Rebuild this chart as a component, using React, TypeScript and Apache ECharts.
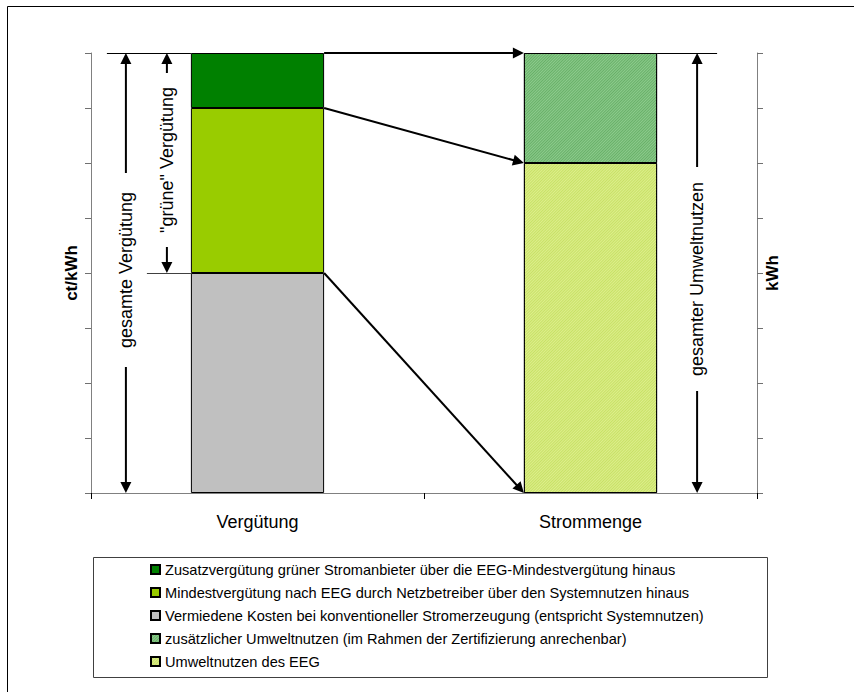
import React, { useEffect, useRef } from "react";
import * as echarts from "echarts";

// ---- data ----
const categories = ["Vergütung", "Strommenge"];
const legendNames = [
  "Zusatzvergütung grüner Stromanbieter über die EEG-Mindestvergütung hinaus",
  "Mindestvergütung nach EEG durch Netzbetreiber über den Systemnutzen hinaus",
  "Vermiedene Kosten bei konventioneller Stromerzeugung (entspricht Systemnutzen)",
  "zusätzlicher Umweltnutzen (im Rahmen der Zertifizierung anrechenbar)",
  "Umweltnutzen des EEG",
];
const zusatzverguetung = [1, null];
const mindestverguetung = [3, null];
const vermiedeneKosten = [4, null];
const zusaetzlicherUmweltnutzen = [null, 2];
const umweltnutzenEEG = [null, 6];
const yMin = 0;
const yMax = 8;
const yInterval = 1;
const axisNames = ["ct/kWh", "kWh"];
const annotationTexts = ["gesamte Vergütung", "\"grüne\" Vergütung", "gesamter Umweltnutzen"];

const FONT = 'Arial, "Liberation Sans", sans-serif';

function arrow(x1: number, y1: number, x2: number, y2: number, headStart: boolean, headEnd: boolean, lw = 2) {
  const hl = 11, hw = 5.5;
  const dx = x2 - x1, dy = y2 - y1;
  const len = Math.hypot(dx, dy);
  const ux = dx / len, uy = dy / len, px = -uy, py = ux;
  let sx = x1, sy = y1, ex = x2, ey = y2;
  const els: any[] = [];
  if (headEnd) {
    ex = x2 - ux * hl * 0.8; ey = y2 - uy * hl * 0.8;
    els.push({ type: "polygon", silent: true, shape: { points: [[x2, y2], [x2 - ux * hl + px * hw, y2 - uy * hl + py * hw], [x2 - ux * hl - px * hw, y2 - uy * hl - py * hw]] }, style: { fill: "#000" } });
  }
  if (headStart) {
    sx = x1 + ux * hl * 0.8; sy = y1 + uy * hl * 0.8;
    els.push({ type: "polygon", silent: true, shape: { points: [[x1, y1], [x1 + ux * hl + px * hw, y1 + uy * hl + py * hw], [x1 + ux * hl - px * hw, y1 + uy * hl - py * hw]] }, style: { fill: "#000" } });
  }
  els.unshift({ type: "line", silent: true, shape: { x1: sx, y1: sy, x2: ex, y2: ey }, style: { stroke: "#000", lineWidth: lw } });
  return els;
}

function hline(x1: number, x2: number, y: number, color = "#000") {
  return { type: "line", silent: true, shape: { x1, y1: Math.round(y) + 0.5, x2, y2: Math.round(y) + 0.5 }, style: { stroke: color, lineWidth: 1 } };
}

function vText(text: string, x: number, y: number) {
  return { type: "text", silent: true, x, y, rotation: Math.PI / 2, style: { text, fontSize: 18, fontFamily: FONT, fill: "#000", align: "center", verticalAlign: "middle" } };
}

export default function App() {
  const ref = useRef<HTMLDivElement>(null);
  useEffect(() => {
    document.body.style.margin = "0";
    const chart = echarts.init(ref.current!, null, { renderer: "svg" });
    const barStyle = (color: string, decal?: any) => ({ color, borderColor: "#000", borderWidth: 1, decal });
    const stripe = (c: string) => ({ symbol: "rect", symbolSize: 1, dashArrayX: [1, 0], dashArrayY: [1, 1], rotation: -Math.PI / 4, color: c });
    const yAxisBase = {
      type: "value", min: yMin, max: yMax, interval: yInterval,
      nameLocation: "middle", nameRotate: 90,
      nameTextStyle: { fontWeight: "bold", fontSize: 17, fontFamily: FONT, color: "#000" },
      axisLine: { show: true, lineStyle: { color: "#808080" } },
      axisTick: { show: true, length: 6, lineStyle: { color: "#707070" } },
      axisLabel: { show: false }, splitLine: { show: false },
    };
    chart.setOption({
      animation: false,
      grid: { left: 91, right: 97, top: 53, bottom: 199 },
      xAxis: {
        type: "category", data: categories,
        axisLine: { lineStyle: { color: "#808080" } },
        axisTick: { show: true, length: 6, lineStyle: { color: "#000" } },
        axisLabel: { color: "#000", fontSize: 18, fontFamily: FONT, margin: 20 },
      },
      yAxis: [
        { ...yAxisBase, position: "left", name: axisNames[0], nameGap: 11 },
        { ...yAxisBase, position: "right", name: axisNames[1], nameGap: 7 },
      ],
      legend: {
        orient: "vertical", left: 145, top: 557, itemWidth: 9, itemHeight: 9, itemGap: 8,
        icon: "rect", selectedMode: false, data: legendNames,
        textStyle: { fontSize: 14.6, fontFamily: FONT, color: "#000", lineHeight: 14 },
      },
      series: [
        { name: legendNames[2], type: "bar", stack: "s", barWidth: "40%", data: vermiedeneKosten, itemStyle: barStyle("#C0C0C0") },
        { name: legendNames[1], type: "bar", stack: "s", barWidth: "40%", data: mindestverguetung, itemStyle: barStyle("#99CC00") },
        { name: legendNames[0], type: "bar", stack: "s", barWidth: "40%", data: zusatzverguetung, itemStyle: barStyle("#008000") },
        { name: legendNames[4], type: "bar", stack: "s", barWidth: "40%", data: umweltnutzenEEG, itemStyle: barStyle("#DDEE8C", stripe("#C8E166")) },
        { name: legendNames[3], type: "bar", stack: "s", barWidth: "40%", data: zusaetzlicherUmweltnutzen, itemStyle: barStyle("#8DCB8D", stripe("#68B068")) },
      ],
    });

    const P = (ci: number, v: number) => chart.convertToPixel({ xAxisIndex: 0, yAxisIndex: 0 }, [ci, v]) as number[];
    const c0 = P(0, 0), c1 = P(1, 0);
    const band = c1[0] - c0[0];
    const half = band * 0.4 / 2;
    const y = (v: number) => P(0, v)[1];
    const l0 = c0[0] - half, r0 = c0[0] + half, l1 = c1[0] - half, r1 = c1[0] + half;
    const leftTotal = (vermiedeneKosten[0] as number) + (mindestverguetung[0] as number) + (zusatzverguetung[0] as number);
    const leftBase = vermiedeneKosten[0] as number;
    const leftMid = leftBase + (mindestverguetung[0] as number);
    const rightBase = umweltnutzenEEG[1] as number;
    const rightTotal = rightBase + (zusaetzlicherUmweltnutzen[1] as number);

    const els: any[] = [];
    // frame
    els.push({ type: "line", silent: true, shape: { x1: 7.5, y1: 6.5, x2: 854, y2: 6.5 }, style: { stroke: "#000", lineWidth: 1 } });
    els.push({ type: "line", silent: true, shape: { x1: 7.5, y1: 6.5, x2: 7.5, y2: 692 }, style: { stroke: "#000", lineWidth: 1 } });
    // legend box
    els.push({ type: "rect", silent: true, shape: { x: 93.5, y: 557.5, width: 674, height: 120 }, style: { fill: "none", stroke: "#404040", lineWidth: 1 } });
    // guide lines
    els.push(hline(l0 - 84, l0, y(leftTotal)));
    els.push(hline(l0 - 44, l0, y(leftBase), "#404040"));
    els.push(hline(r1, r1 + 60, y(rightTotal)));
    // arrows between bars
    els.push(...arrow(r0, y(leftTotal), l1, y(rightTotal), false, true));
    els.push(...arrow(r0, y(leftMid), l1, y(rightBase), false, true));
    els.push(...arrow(r0, y(leftBase), l1, y(0), false, true));
    // gesamte Vergütung
    const ax1 = l0 - 65;
    const m1 = (y(leftTotal) + y(0)) / 2 - 3;
    els.push(...arrow(ax1, m1 - 97, ax1, y(leftTotal), false, true));
    els.push(...arrow(ax1, m1 + 97, ax1, y(0), false, true));
    els.push(vText(annotationTexts[0], ax1, m1));
    // grüne Vergütung
    const ax2 = l0 - 24;
    const m2 = (y(leftTotal) + y(leftBase)) / 2 - 3;
    els.push(...arrow(ax2, m2 - 87, ax2, y(leftTotal), false, true));
    els.push(...arrow(ax2, m2 + 87, ax2, y(leftBase), false, true));
    els.push(vText(annotationTexts[1], ax2, m2));
    // gesamter Umweltnutzen
    const ax3 = r1 + 40;
    const m3 = (y(rightTotal) + y(0)) / 2 + 6;
    els.push(...arrow(ax3, m3 - 112, ax3, y(rightTotal), false, true));
    els.push(...arrow(ax3, m3 + 112, ax3, y(0), false, true));
    els.push(vText(annotationTexts[2], ax3, m3));

    chart.setOption({ graphic: { elements: els } });
    return () => chart.dispose();
  }, []);
  return <div ref={ref} style={{ width: 854, height: 692 }} />;
}
